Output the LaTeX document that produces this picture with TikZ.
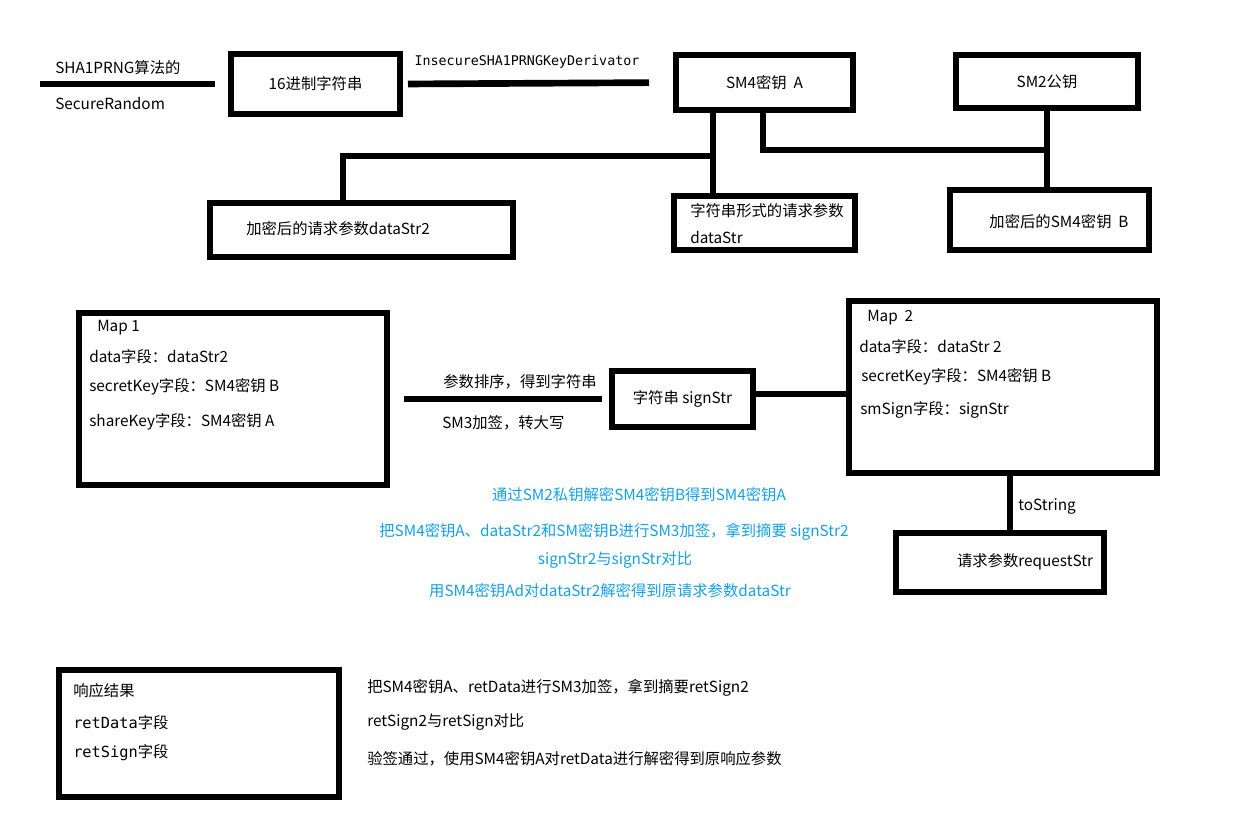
\documentclass[tikz,border=0pt]{standalone}
\usepackage{fontspec}
\setmainfont{Noto Sans CJK SC}
\newfontfamily\codefont{DejaVu Sans Mono}
\definecolor{noteblue}{RGB}{20,160,230}
\begin{document}
\begin{tikzpicture}[x=0.75pt, y=-0.75pt,
    box/.style={draw, line width=4.5pt, inner sep=0pt, font=\fontsize{11.5}{13}\selectfont},
    txt/.style={inner sep=0pt, font=\fontsize{11.5}{13}\selectfont},
    link/.style={line width=5pt}
]
\useasboundingbox (0,0) rectangle (1234,836);

% Schluessel
\node[box, minimum width=126.75pt, minimum height=45pt] (hex) at (315.5,84) {16进制字符串};
\node[box, minimum width=132.75pt, minimum height=41.25pt] (smA) at (764.5,82.5) {SM4密钥\ \ A};
\node[box, minimum width=136.5pt, minimum height=39.75pt] (smTwo) at (1047,81.5) {SM2公钥};
\node[box, minimum width=227.25pt, minimum height=40.5pt] (encData) at (361.5,230) {};
\node[box, minimum width=135.75pt, minimum height=40.5pt] (dataStr) at (764.5,223) {};
\node[box, minimum width=149.25pt, minimum height=45pt] (encKey) at (1049.5,220) {};

\node[txt, anchor=west] (srcTop) at (55,68) {SHA1PRNG算法的};
\node[txt, anchor=west] (srcBot) at (55,103) {SecureRandom};
\node[txt, font=\codefont\fontsize{10}{12}\selectfont] (kdf) at (527,62) {InsecureSHA1PRNGKeyDerivator};
\node[txt, anchor=west] (encDataTxt) at (246,229) {加密后的请求参数dataStr2};
\node[txt, anchor=west] (dataStrTop) at (690,211) {字符串形式的请求参数};
\node[txt, anchor=west] (dataStrBot) at (690,237) {dataStr};
\node[txt] (encKeyTxt) at (1059,222) {加密后的SM4密钥\ \ B};

\coordinate (srcStart) at (40,84);
\draw[link, shorten >=10pt] (srcStart) -- (hex.west);
\draw[link, shorten <=3.75pt, shorten >=18pt] (hex.east) -- (smA.west);

\coordinate (jA) at (713,156);
\coordinate (jB) at (343,156);
\draw[link] (smA.south -| jA) -- (dataStr.north -| jA);
\draw[link] (jA) -- (jB) -- (encData.north -| jB);
\coordinate (jC) at (763,150);
\coordinate (jD) at (1047,150);
\draw[link] (smA.south -| jC) -- (jC) -- (jD);
\draw[link] (smTwo.south) -- (encKey.north -| smTwo.south);

% Maps
\node[box, minimum width=231pt, minimum height=129pt] (mapOne) at (233,399) {};
\node[box, minimum width=105.75pt, minimum height=42pt] (sign) at (682.5,399) {字符串 signStr};
\node[box, minimum width=231pt, minimum height=129pt] (mapTwo) at (1003,387) {};
\node[box, minimum width=156pt, minimum height=44.25pt] (req) at (1000,562.5) {};

\node[txt, anchor=west] (mapOneHead) at (97,328) {Map 1};
\node[txt, anchor=west] (mapOneData) at (89,357) {data字段：dataStr2};
\node[txt, anchor=west] (mapOneSecret) at (89,387) {secretKey字段：SM4密钥 B};
\node[txt, anchor=west] (mapOneShare) at (89,422) {shareKey字段：SM4密钥 A};

\node[txt, anchor=west] (mapTwoHead) at (867,318) {Map\ \ 2};
\node[txt, anchor=west] (mapTwoData) at (859,347) {data字段：dataStr 2};
\node[txt, anchor=west] (mapTwoSecret) at (861,377) {secretKey字段：SM4密钥 B};
\node[txt, anchor=west] (mapTwoSign) at (860,410) {smSign字段：signStr};

\node[txt] (sortLbl) at (520,382) {参数排序，得到字符串};
\node[txt, anchor=west] (hashLbl) at (442,423) {SM3加签，转大写};
\node[txt, anchor=west] (tsLbl) at (1018,506) {toString};
\node[txt] (reqTxt) at (1025,562) {请求参数requestStr};

\draw[link, shorten <=10.5pt, shorten >=5pt] (mapOne.east) -- (sign.west);
\draw[link] ([yshift=3.75pt]sign.east) -- ([yshift=3.75pt]sign.east -| mapTwo.west);
\coordinate (tsX) at (1010,0);
\draw[link] (mapTwo.south -| tsX) -- (req.north -| tsX);

% Pruefung
\node[txt, text=noteblue] (noteOne) at (639,495) {通过SM2私钥解密SM4密钥B得到SM4密钥A};
\node[txt, text=noteblue] (noteTwo) at (614,532) {把SM4密钥A、dataStr2和SM密钥B进行SM3加签，拿到摘要 signStr2};
\node[txt, text=noteblue] (noteThree) at (615,560) {signStr2与signStr对比};
\node[txt, text=noteblue] (noteFour) at (610,591) {用SM4密钥Ad对dataStr2解密得到原请求参数dataStr};

% Antwort
\node[box, minimum width=210pt, minimum height=95.25pt] (resp) at (199,733.5) {};
\node[txt, anchor=west] (respHead) at (73,691) {响应结果};
\node[txt, anchor=west] (respData) at (73,723) {{\codefont retData}字段};
\node[txt, anchor=west] (respSign) at (73,753) {{\codefont retSign}字段};

\node[txt, anchor=west] (stepOne) at (367,688) {把SM4密钥A、retData进行SM3加签，拿到摘要retSign2};
\node[txt, anchor=west] (stepTwo) at (367,722) {retSign2与retSign对比};
\node[txt, anchor=west] (stepThree) at (367,759) {验签通过，使用SM4密钥A对retData进行解密得到原响应参数};
\end{tikzpicture}
\end{document}
